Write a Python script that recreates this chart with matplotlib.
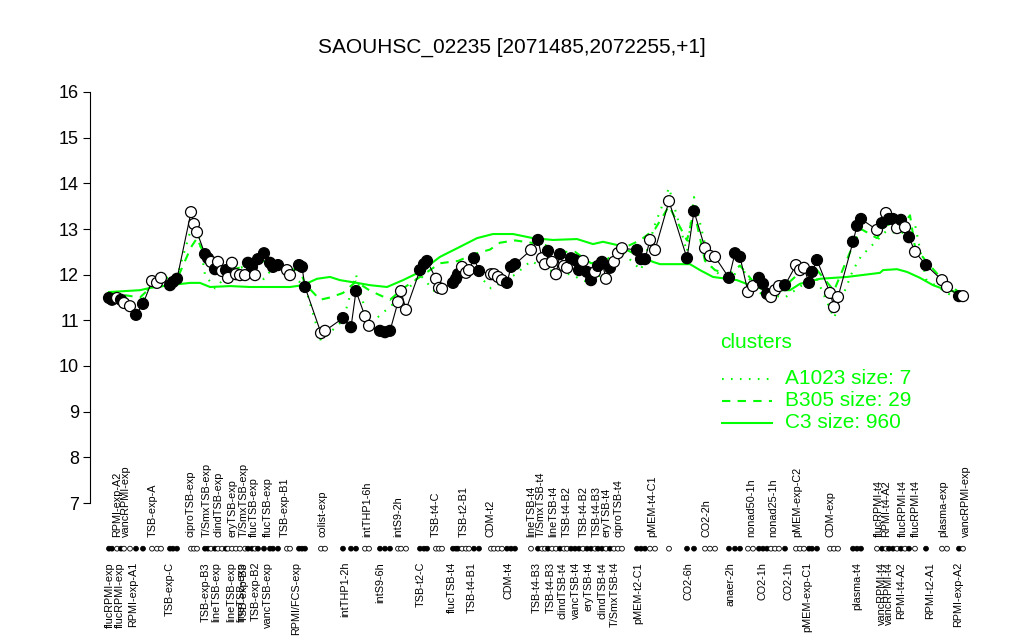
import matplotlib.pyplot as plt
from matplotlib.lines import Line2D

plt.rcParams['font.family'] = ['Liberation Sans', 'DejaVu Sans']

GREEN = '#00ff00'

# sample positions along the x axis, expression and fill (1 = filled circle)
pos = [109, 112, 117, 121, 124, 130, 136, 143, 152, 157, 161, 170, 173, 177,
       191, 194, 197, 205, 208, 211, 215, 218, 222, 226, 228, 232, 236, 240,
       245, 248, 252, 255, 258, 264, 270, 273, 278, 287, 290, 299, 302, 305,
       321, 325, 343, 351, 356, 365, 369, 380, 385, 390, 398, 401, 406, 420,
       424, 427, 436, 439, 442, 453, 456, 458, 462, 466, 469, 474, 479, 491,
       494, 498, 502, 507, 511, 515, 531, 538, 542, 545, 548, 552, 556, 560,
       564, 567, 571, 575, 579, 583, 587, 591, 595, 598, 602, 606, 610, 614,
       618, 622, 637, 641, 645, 650, 655, 669, 687, 694, 705, 710, 715, 729,
       735, 740, 748, 753, 759, 763, 767, 771, 775, 779, 785, 796, 800, 804,
       809, 812, 817, 830, 834, 838, 853, 857, 861, 877, 882, 886, 889, 893,
       897, 901, 905, 909, 915, 926, 942, 947, 959, 963]
expr = [11.49, 11.45, 11.49, 11.45, 11.38, 11.31, 11.12, 11.36, 11.86, 11.82,
        11.93, 11.77, 11.84, 11.91, 13.37, 13.11, 12.93, 12.45, 12.36, 12.28,
        12.12, 12.28, 12.08, 12.10, 11.93, 12.26, 12.01, 11.99, 11.99, 12.26,
        12.17, 11.99, 12.34, 12.47, 12.26, 12.17, 12.21, 12.10, 11.99, 12.21,
        12.17, 11.73, 10.72, 10.77, 11.05, 10.85, 11.64, 11.09, 10.88, 10.77,
        10.74, 10.77, 11.40, 11.64, 11.23, 12.10, 12.23, 12.30, 11.91, 11.71,
        11.69, 11.82, 11.91, 12.01, 12.17, 12.04, 12.10, 12.36, 12.08, 12.01,
        12.01, 11.95, 11.88, 11.82, 12.17, 12.23, 12.54, 12.76, 12.36, 12.23,
        12.52, 12.28, 12.01, 12.45, 12.19, 12.15, 12.36, 12.32, 12.10, 12.30,
        12.06, 11.88, 12.06, 12.19, 12.28, 11.91, 12.15, 12.28, 12.47, 12.58,
        12.54, 12.34, 12.34, 12.76, 12.54, 13.61, 12.36, 13.39, 12.58, 12.41,
        12.39, 11.93, 12.47, 12.39, 11.62, 11.75, 11.93, 11.80, 11.58, 11.51,
        11.66, 11.75, 11.77, 12.21, 12.10, 12.15, 11.82, 12.06, 12.32, 11.60,
        11.29, 11.51, 12.72, 13.07, 13.22, 12.98, 13.13, 13.35, 13.22, 13.22,
        13.02, 13.20, 13.04, 12.82, 12.50, 12.21, 11.88, 11.73, 11.53, 11.53]
filled = [1, 1, 0, 1, 0, 0, 1, 1, 0, 0, 0, 1, 1, 1, 0, 0, 0, 1, 1, 0, 1, 0, 0,
          1, 0, 0, 0, 0, 0, 1, 1, 0, 1, 1, 1, 1, 1, 0, 0, 1, 1, 1, 0, 0, 1, 1,
          1, 0, 0, 1, 1, 1, 0, 0, 0, 1, 1, 1, 0, 0, 0, 1, 1, 1, 0, 0, 0, 1, 1,
          0, 0, 0, 0, 1, 1, 1, 0, 1, 0, 0, 1, 0, 0, 1, 0, 0, 1, 1, 1, 0, 1, 1,
          0, 1, 1, 0, 1, 0, 0, 0, 1, 1, 1, 0, 0, 0, 1, 1, 0, 0, 0, 1, 1, 1, 0,
          0, 1, 1, 1, 0, 0, 0, 1, 0, 0, 0, 1, 1, 1, 0, 0, 0, 1, 1, 1, 0, 1, 0,
          1, 1, 0, 1, 0, 1, 0, 1, 0, 0, 1, 0]

# cluster mean profiles
c3_pos = [109, 140, 150, 170, 190, 200, 210, 230, 250, 270, 290, 303, 317,
          330, 340, 357, 370, 387, 403, 420, 440, 460, 477, 493, 513, 533,
          553, 577, 593, 603, 617, 637, 653, 660, 690, 700, 713, 737, 750,
          767, 790, 800, 820, 847, 880, 883, 897, 907, 920, 933, 947, 963]
c3_val = [11.62, 11.66, 11.71, 11.77, 11.82, 11.82, 11.73, 11.75, 11.73,
          11.73, 11.73, 11.77, 11.91, 11.95, 11.88, 11.82, 11.77, 11.73,
          11.88, 12.06, 12.39, 12.61, 12.80, 12.89, 12.89, 12.80, 12.76,
          12.78, 12.67, 12.72, 12.65, 12.43, 12.28, 12.23, 12.23, 12.10,
          11.95, 11.88, 11.77, 11.66, 11.66, 11.80, 11.91, 11.95, 12.04,
          12.10, 12.12, 12.06, 11.93, 11.77, 11.66, 11.60]
b305_pos = [109, 125, 140, 152, 165, 177, 185, 191, 197, 205, 215, 230, 248,
            264, 280, 300, 305, 320, 330, 343, 356, 370, 390, 403, 420, 440,
            458, 474, 490, 500, 515, 531, 545, 560, 575, 591, 605, 620, 640,
            655, 669, 687, 694, 705, 715, 729, 740, 755, 767, 785, 800, 817,
            834, 853, 861, 877, 886, 901, 910, 915, 926, 942, 963]
b305_val = [11.62, 11.55, 11.50, 11.75, 11.80, 11.90, 12.30, 12.60, 12.80,
            12.40, 12.15, 12.10, 12.20, 12.30, 12.15, 12.10, 11.80, 11.45,
            11.50, 11.60, 11.85, 11.65, 11.45, 11.70, 11.95, 12.25, 12.30,
            12.45, 12.55, 12.70, 12.75, 12.70, 12.65, 12.50, 12.50, 12.25,
            12.30, 12.55, 12.75, 13.00, 13.50, 12.75, 13.40, 12.30, 12.10,
            12.00, 12.20, 11.80, 11.70, 11.75, 12.05, 12.10, 11.65, 12.65,
            13.00, 12.80, 13.10, 13.05, 13.30, 12.60, 12.30, 11.90, 11.55]
a1023_pos = [109, 121, 136, 143, 152, 177, 191, 197, 205, 215, 232, 248, 264,
             278, 290, 305, 321, 343, 356, 369, 390, 401, 420, 436, 458, 474,
             491, 515, 531, 548, 571, 591, 610, 622, 641, 655, 669, 687, 694,
             710, 729, 740, 759, 785, 804, 817, 834, 853, 861, 886, 901, 915,
             926, 947, 963]
a1023_val = [11.50, 11.35, 11.20, 11.45, 11.90, 11.95, 13.00, 13.10, 12.00,
             11.70, 12.10, 12.20, 11.90, 12.30, 12.00, 11.75, 10.55, 11.00,
             12.00, 10.90, 11.30, 11.50, 12.00, 11.60, 11.90, 12.10, 11.70,
             12.00, 12.30, 12.10, 12.00, 11.80, 12.20, 12.50, 12.10, 13.10,
             13.90, 12.50, 13.70, 12.20, 11.80, 12.20, 11.60, 11.50, 11.80,
             11.90, 11.05, 12.10, 12.40, 12.95, 12.90, 13.10, 11.90, 11.60,
             11.40]

top_pos = [117, 126, 153, 191, 207, 218, 232, 244, 254, 268, 285, 322, 367,
           398, 436, 464, 491, 531, 541, 553, 567, 584, 597, 607, 618, 652,
           707, 751, 773, 797, 830, 879, 886, 903, 916, 943, 966]
top_labels = ['RPMI-exp-A2', 'vancRPMI-exp', 'TSB-exp-A', 'ciproTSB-exp',
              'T/SmxTSB-exp', 'clindTSB-exp', 'eryTSB-exp', 'T/SmxTSB-exp',
              'flucTSB-exp', 'flucTSB-exp', 'TSB-exp-B1', 'colist-exp',
              'intTHP1-6h', 'intS9-2h', 'TSB-t4-C', 'TSB-t2-B1', 'CDM-t2',
              'lineTSB-t4', 'T/SmxTSB-t4', 'lineTSB-t4', 'TSB-t4-B2',
              'TSB-t4-B2', 'TSB-t4-B3', 'eryTSB-t4', 'ciproTSB-t4',
              'pMEM-t4-C1', 'CO2-2h', 'nonad50-1h', 'nonad25-1h',
              'pMEM-exp-C2', 'CDM-exp', 'flucRPMI-t4', 'RPMI-t4-A2',
              'flucRPMI-t4', 'flucRPMI-t4', 'plasma-exp', 'vancRPMI-exp']
bottom_pos = [110, 120, 133, 170, 206, 216, 231, 241, 244, 256, 268, 296,
              345, 380, 421, 452, 472, 508, 537, 551, 563, 576, 588, 602,
              615, 638, 688, 731, 762, 788, 807, 857, 882, 889, 901, 930, 958]
bottom_labels = ['flucRPMI-exp', 'flucRPMI-exp', 'RPMI-exp-A1', 'TSB-exp-C',
                 'TSB-exp-B3', 'lineTSB-exp', 'lineTSB-exp', 'lineTSB-exp',
                 'TSB-exp-B3', 'TSB-exp-B2', 'vancTSB-exp', 'RPMI/FCS-exp',
                 'intTHP1-2h', 'intS9-6h', 'TSB-t2-C', 'flucTSB-t4',
                 'TSB-t4-B1', 'CDM-t4', 'TSB-t4-B3', 'TSB-t4-B3',
                 'clindTSB-t4', 'vancTSB-t4', 'eryTSB-t4', 'clindTSB-t4',
                 'T/SmxTSB-t4', 'pMEM-t2-C1', 'CO2-6h', 'anaer-2h', 'CO2-1h',
                 'CO2-1h', 'pMEM-exp-C1', 'plasma-t4', 'vancRPMI-t4',
                 'vancRPMI-t4', 'RPMI-t4-A2', 'RPMI-t2-A1', 'RPMI-exp-A2']

fig = plt.figure(figsize=(10.24, 6.4), dpi=100)
ax = fig.add_axes([90 / 1024, 137 / 640, 890 / 1024, 411 / 640])

ax.plot(c3_pos, c3_val, color=GREEN, lw=1.5, zorder=2)
ax.plot(b305_pos, b305_val, color=GREEN, lw=1.5, dashes=(4, 3.5), zorder=2)
ax.plot(a1023_pos, a1023_val, color=GREEN, lw=1.5, dashes=(0.8, 3.5), zorder=2)

faces = ['black' if f else 'white' for f in filled]
ax.plot(pos, expr, color='black', lw=0.8, zorder=3)
ax.scatter(pos, expr, s=62, facecolors=faces, edgecolors='black',
           linewidths=0.9, zorder=4)

# sample strip below the axis
ax.scatter(pos, [6.0] * len(pos), s=12, facecolors=faces, edgecolors='black',
           linewidths=0.6, clip_on=False, zorder=4)
for p, t in zip(top_pos, top_labels):
    ax.text(p, 6.26, t, rotation=90, ha='center', va='bottom', fontsize=7.8)
for p, t in zip(bottom_pos, bottom_labels):
    ax.text(p, 5.71, t, rotation=90, ha='center', va='top', fontsize=7.8)

ax.set_xlim(90, 980)
ax.set_ylim(7, 16)
ax.set_yticks(range(7, 17))
ax.set_xticks([])
for side in ('top', 'right', 'bottom'):
    ax.spines[side].set_visible(False)
ax.spines['left'].set_bounds(7, 16)
ax.spines['left'].set_linewidth(0.8)
ax.tick_params(axis='y', labelsize=13, length=5, width=0.8, pad=3)
ax.patch.set_alpha(0)

fig.text(0.5, 1 - 47 / 640, 'SAOUHSC_02235 [2071485,2072255,+1]',
         ha='center', va='center', fontsize=15)

# legend drawn by hand to match the layout
fig.text(720 / 1024, 1 - 343 / 640, 'clusters', color=GREEN, fontsize=15,
         va='center')
legend_items = [('A1023 size: 7', (0.8, 3.5)), ('B305 size: 29', (4, 3.5)),
                ('C3 size: 960', None)]
for i, (txt, dash) in enumerate(legend_items):
    y = 1 - (379 + 22 * i) / 640
    ln = Line2D([722 / 1024, 772 / 1024], [y, y], color=GREEN, lw=1.5,
                transform=fig.transFigure)
    if dash:
        ln.set_dashes(dash)
    fig.add_artist(ln)
    fig.text(785 / 1024, y, txt, color=GREEN, fontsize=15, va='center')

fig.savefig('out.png', dpi=100)
